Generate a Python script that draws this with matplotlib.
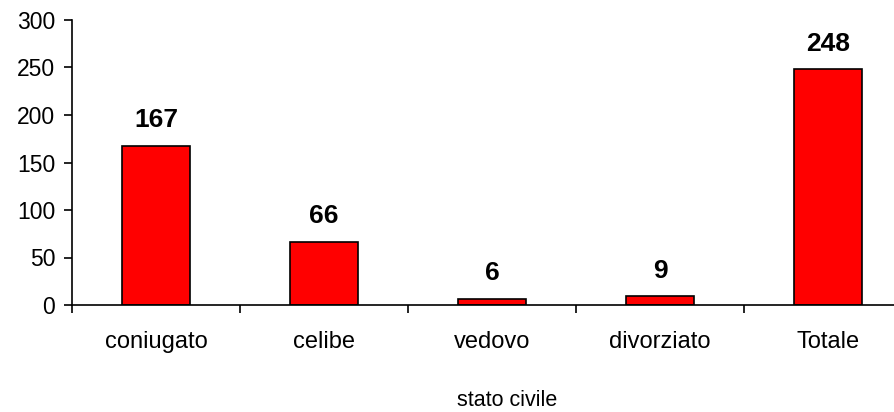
import matplotlib
matplotlib.use("Agg")
import matplotlib.pyplot as plt
import numpy as np

categories = ["coniugato", "celibe", "vedovo", "divorziato", "Totale"]
values = [167, 66, 6, 9, 248]
yticks = [0, 50, 100, 150, 200, 250, 300]

plt.rcParams["font.family"] = ["Liberation Sans", "DejaVu Sans"]

W, H = 895, 412
fig = plt.figure(figsize=(W / 100, H / 100), dpi=100)
# axes runs past the right edge of the figure, as in the original
ax = fig.add_axes([72 / W, 1 - 305 / H, (912 - 72) / W, (305 - 20) / H])

x = np.arange(len(categories)) + 0.5
ax.bar(x, values, width=0.405, color="#ff0000", edgecolor="black", linewidth=1.2)
for xi, v in zip(x, values):
    ax.annotate(str(v), (xi, v), xytext=(0, 10), textcoords="offset points",
                ha="center", va="bottom", fontsize=19, fontweight="bold")

ax.set_xlim(0, len(categories))
ax.set_ylim(0, 300)
ax.set_yticks(yticks)
ax.set_xticks(np.arange(len(categories) + 1))
ax.set_xticklabels([])
ax.set_xticks(x, minor=True)
ax.set_xticklabels(categories, minor=True)
ax.tick_params(axis="x", which="minor", length=0, pad=19, labelsize=17)
ax.tick_params(axis="x", which="major", length=6, width=1.2, direction="out")
ax.tick_params(axis="y", length=6, width=1.2, direction="out", labelsize=16.5, pad=6)

for s in ["top", "right"]:
    ax.spines[s].set_visible(False)
for s in ["left", "bottom"]:
    ax.spines[s].set_linewidth(1.2)

fig.text(507 / W, 1 - 401 / H, "stato civile", ha="center", va="center", fontsize=15.5)

fig.savefig("out.png", dpi=100)
